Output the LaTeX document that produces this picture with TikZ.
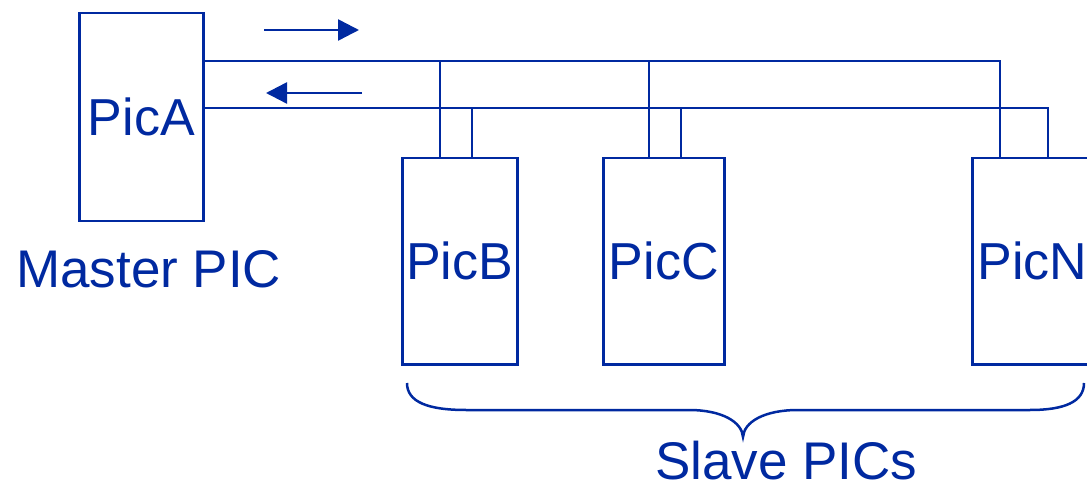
\documentclass[tikz,border=0pt]{standalone}
\usepackage{fontspec}
\setmainfont{Liberation Sans}
\usetikzlibrary{arrows.meta,calc}
\definecolor{pic}{RGB}{0,41,160}
\begin{document}
\begin{tikzpicture}[x=1pt,y=-1pt,line width=2.5pt,draw=pic,
  picbox/.style={draw=pic,line width=2.5pt,inner sep=0pt,text=pic,
    font=\fontsize{52}{60}\selectfont,anchor=north west},
  lbl/.style={text=pic,inner sep=0pt,font=\fontsize{53}{60}\selectfont},
  flow/.style={pic,line width=2.5pt,-{Triangle[length=21pt,width=21pt]}}]
\useasboundingbox (0,0) rectangle (1087,486);
\clip (0,0) rectangle (1087,486);
\coordinate (busT) at (0,61);
\coordinate (busB) at (0,108);
% boxes
\node[picbox,minimum width=124pt,minimum height=208pt] (A) at (78,12) {PicA};
\node[picbox,minimum width=115pt,minimum height=206pt] (B) at (401,157) {PicB};
\node[picbox,minimum width=121pt,minimum height=206pt] (C) at (602,157) {PicC};
\node[picbox,minimum width=120pt,minimum height=206pt] (N) at (971,157) {PicN};
% labels
\node[lbl,anchor=base west] (master) at (15,288) {Master PIC};
\node[lbl,anchor=base west] (slave) at (654,479) {Slave PICs};
% tap points on box tops
\coordinate (bT) at ($(B.north west)+(39,0)$);
\coordinate (bB) at ($(B.north west)+(71,0)$);
\coordinate (cT) at ($(C.north west)+(47,0)$);
\coordinate (cB) at ($(C.north west)+(79,0)$);
\coordinate (nT) at ($(N.north west)+(29,0)$);
\coordinate (nB) at ($(N.north west)+(77,0)$);
% buses
\draw[pic] (A.east |- busT) -| (nT);
\draw[pic] (A.east |- busB) -| (nB);
\draw[pic] (bT |- busT) -- (bT);
\draw[pic] (bB |- busB) -- (bB);
\draw[pic] (cT |- busT) -- (cT);
\draw[pic] (cB |- busB) -- (cB);
% direction arrows
\coordinate (r1) at (264,30);
\coordinate (r2) at (359,30);
\coordinate (l1) at (362,93);
\coordinate (l2) at (266,93);
\draw[flow] (r1) -- (r2);
\draw[flow] (l1) -- (l2);
% brace
\draw[pic] (407,383) .. controls (407,402) and (428,410) .. (466,410)
  -- (689,410) .. controls (722,410) and (742,422) .. (743,437)
  .. controls (744,422) and (764,410) .. (798,410)
  -- (1030,410) .. controls (1064,410) and (1084,402) .. (1084,383);
\end{tikzpicture}
\end{document}
